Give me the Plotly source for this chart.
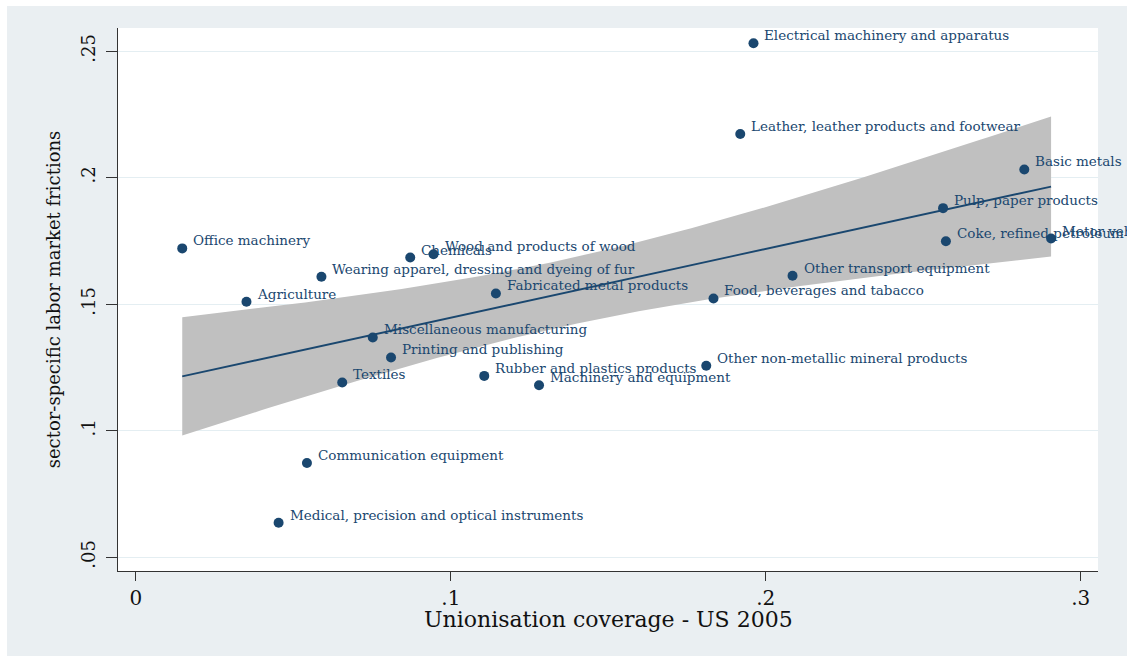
import numpy as np
import plotly.graph_objects as go

sectors = [
    "Electrical machinery and apparatus",
    "Leather, leather products and footwear",
    "Basic metals",
    "Pulp, paper products",
    "Coke, refined petroleum and nuclear fuel",
    "Motor vehicles, trailers and semi-trailers",
    "Other transport equipment",
    "Food, beverages and tabacco",
    "Fabricated metal products",
    "Wood and products of wood",
    "Chemicals",
    "Wearing apparel, dressing and dyeing of fur",
    "Office machinery",
    "Agriculture",
    "Miscellaneous manufacturing",
    "Printing and publishing",
    "Textiles",
    "Rubber and plastics products",
    "Machinery and equipment",
    "Other non-metallic mineral products",
    "Communication equipment",
    "Medical, precision and optical instruments",
]
union_cov = [0.1961, 0.1919, 0.2821, 0.2563, 0.2572, 0.2906, 0.2085, 0.1834,
             0.1143, 0.0945, 0.0871, 0.0589, 0.0147, 0.0351, 0.0752, 0.0810,
             0.0655, 0.1106, 0.1280, 0.1811, 0.0543, 0.0453]
frictions = [0.2531, 0.2172, 0.2032, 0.1879, 0.1748, 0.1759, 0.1612, 0.1522,
             0.1542, 0.1697, 0.1684, 0.1608, 0.1720, 0.1509, 0.1368, 0.1289,
             0.1190, 0.1216, 0.1179, 0.1256, 0.0872, 0.0636]
x_ticks = [0, 0.1, 0.2, 0.3]
x_ticklabels = ["0", ".1", ".2", ".3"]
y_ticks = [0.05, 0.1, 0.15, 0.2, 0.25]
y_ticklabels = [".05", ".1", ".15", ".2", ".25"]
x_title = "Unionisation coverage - US 2005"
y_title = "sector-specific labor market frictions"

# linear fit with confidence band
x = np.array(union_cov)
y = np.array(frictions)
n = len(x)
b, a = np.polyfit(x, y, 1)
resid = y - (a + b * x)
s = np.sqrt(np.sum(resid ** 2) / (n - 2))
sxx = np.sum((x - x.mean()) ** 2)
t_crit = 1.7247  # 90% level, df = 20
xf = np.linspace(x.min(), x.max(), 100)
yf = a + b * xf
hw = t_crit * s * np.sqrt(1.0 / n + (xf - x.mean()) ** 2 / sxx)
lo = yf - hw
hi = yf + hw

navy = "#1a476f"
serif = "DejaVu Serif"

fig = go.Figure()
fig.add_trace(go.Scatter(
    x=np.concatenate([xf, xf[::-1]]), y=np.concatenate([hi, lo[::-1]]),
    fill="toself", fillcolor="#c0c0c0", line=dict(width=0),
    mode="lines", hoverinfo="skip", showlegend=False))
fig.add_trace(go.Scatter(x=xf, y=yf, mode="lines",
                         line=dict(color=navy, width=1.8), showlegend=False))
fig.add_trace(go.Scatter(x=union_cov, y=frictions, mode="markers",
                         marker=dict(color=navy, size=10), text=sectors,
                         showlegend=False))

for name, xv, yv in zip(sectors, union_cov, frictions):
    fig.add_annotation(x=xv, y=yv, text=name, showarrow=False,
                       xanchor="left", yanchor="middle", xshift=9, yshift=8,
                       font=dict(family=serif, size=13.5, color=navy))

fig.add_annotation(xref="paper", yref="paper", x=0.5, y=-0.0902,
                   xanchor="center", yanchor="middle", showarrow=False,
                   text=x_title, font=dict(family=serif, size=22, color="#111"))

# outer light background and white plot region
fig.add_shape(type="rect", xref="paper", yref="paper", x0=-0.1133, x1=1.1,
              y0=-0.3, y1=1.0405, fillcolor="#eaeff2", line=dict(width=0),
              layer="below")
fig.add_shape(type="rect", xref="paper", yref="paper", x0=0, x1=1,
              y0=0, y1=1, fillcolor="white", line=dict(width=0),
              layer="below")

fig.update_layout(
    width=1127, height=656,
    margin=dict(l=118, r=29, t=28, b=85),
    paper_bgcolor="white", plot_bgcolor="white",
    font=dict(family=serif, color="#111"),
    xaxis=dict(range=[-0.0057, 0.3055], tickvals=x_ticks, ticktext=x_ticklabels,
               showgrid=False, zeroline=False, showline=True, linecolor="#333",
               linewidth=1.2, ticks="outside", ticklen=9, tickcolor="#333",
               tickfont=dict(family=serif, size=20, color="#111"),
               ticklabelstandoff=0),
    yaxis=dict(range=[0.0445, 0.2591], tickvals=y_ticks, ticktext=y_ticklabels,
               showgrid=True, gridcolor="#e4eef2", gridwidth=1.2,
               zeroline=False, showline=True, linecolor="#333", linewidth=1.2,
               ticks="outside", ticklen=11, tickcolor="#333", tickangle=-90,
               tickfont=dict(family=serif, size=18, color="#111"),
               ticklabelstandoff=4,
               title=dict(text=y_title,
                          font=dict(family=serif, size=18, color="#111"),
                          standoff=12)),
)

fig.write_html("out.html", config={"displayModeBar": False},
               post_script="document.body.style.margin='0';"
                           "document.body.style.overflow='hidden';")
